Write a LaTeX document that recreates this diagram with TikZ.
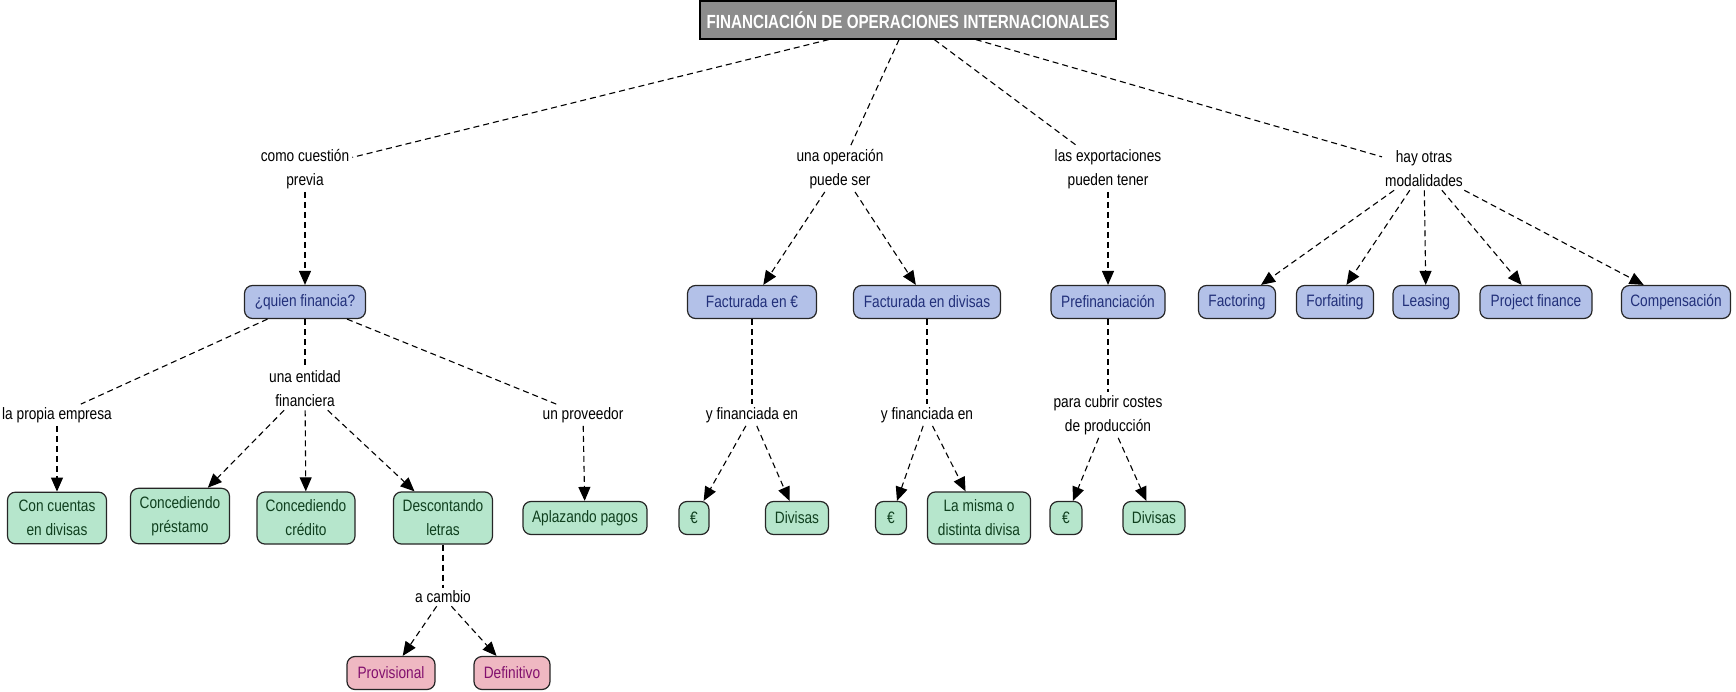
\documentclass[tikz,border=0pt]{standalone}
\usepackage{fontspec}
\setmainfont{Liberation Sans}[FakeStretch=0.83]
\newfontfamily\titlefont{Liberation Sans}[FakeStretch=0.8]
\usetikzlibrary{arrows.meta}
\definecolor{cmblue}{HTML}{B3C1E8}
\definecolor{cmbluet}{HTML}{22307A}
\definecolor{cmgreen}{HTML}{B6E6CC}
\definecolor{cmgreent}{HTML}{0F3F1E}
\definecolor{cmpink}{HTML}{EFB8C2}
\definecolor{cmpinkt}{HTML}{82106E}
\definecolor{cmgray}{HTML}{8C8C8C}
\tikzset{
 cbase/.style={rounded corners=8pt, draw=black!85, line width=1.2pt, align=center,
   font=\fontsize{16.5}{24}\selectfont, minimum height=33pt, inner xsep=3pt, inner ysep=8pt},
 bnode/.style={cbase, fill=cmblue, text=cmbluet},
 gnode/.style={cbase, fill=cmgreen, text=cmgreent},
 pnode/.style={cbase, fill=cmpink, text=cmpinkt},
 phrase/.style={align=center, font=\fontsize{16.5}{24}\selectfont, inner sep=3pt},
 w/.style={minimum width=#1pt},
 con/.style={dash pattern=on 6pt off 4pt, line width=1.1pt},
 arr/.style={con, -{Triangle[length=14pt,width=12pt]}},
}
\begin{document}
\begin{tikzpicture}[x=1pt,y=-1pt]
\useasboundingbox (0,0) rectangle (1736,692);
% title
\node[draw=black, line width=1.2pt, fill=cmgray, text=white, minimum width=416pt, minimum height=38pt,
  font=\titlefont\fontsize{19}{21}\selectfont\bfseries] (title) at (908,20) {FINANCIACIÓN DE OPERACIONES INTERNACIONALES};
% level 1 phrases
\node[phrase] (p1) at (305,169) {como cuestión\\previa};
\node[phrase] (p2) at (840,169) {una operación\\puede ser};
\node[phrase] (p3) at (1108,169) {las exportaciones\\pueden tener};
\node[phrase] (p4) at (1424,169) {hay otras\\modalidades};
% level 2 concepts
\node[bnode,w=121] (quien) at (305,302) {¿quien financia?};
\node[bnode,w=129] (feur) at (752,302) {Facturada en €};
\node[bnode,w=147] (fdiv) at (927,302) {Facturada en divisas};
\node[bnode,w=114] (pref) at (1108,302) {Prefinanciación};
\node[bnode,w=77] (fact) at (1237,302) {Factoring};
\node[bnode,w=77] (forf) at (1335,302) {Forfaiting};
\node[bnode,w=66] (leas) at (1426,302) {Leasing};
\node[bnode,w=112] (proj) at (1536,302) {Project finance};
\node[bnode,w=109] (comp) at (1676,302) {Compensación};
% level 3 phrases
\node[phrase] (q1) at (57,415) {la propia empresa};
\node[phrase] (q2) at (305,389) {una entidad\\financiera};
\node[phrase] (q3) at (583,415) {un proveedor};
\node[phrase] (q4) at (752,415) {y financiada en};
\node[phrase] (q5) at (927,415) {y financiada en};
\node[phrase] (q6) at (1108,415) {para cubrir costes\\de producción};
% level 4 concepts
\node[gnode,w=99] (cuen) at (57,518) {Con cuentas\\en divisas};
\node[gnode,w=99] (pres) at (180,516) {Concediendo\\préstamo};
\node[gnode,w=98] (cred) at (306,518) {Concediendo\\crédito};
\node[gnode,w=99] (desc) at (443,518) {Descontando\\letras};
\node[gnode,w=124] (apla) at (585,518) {Aplazando pagos};
\node[gnode,w=30] (e1) at (694,518) {€};
\node[gnode,w=63] (d1) at (797,518) {Divisas};
\node[gnode,w=31] (e2) at (891,518) {€};
\node[gnode,w=103] (misma) at (979,518) {La misma o\\distinta divisa};
\node[gnode,w=32] (e3) at (1066,518) {€};
\node[gnode,w=62] (d3) at (1154,518) {Divisas};
% level 5
\node[phrase] (r1) at (443,597) {a cambio};
\node[pnode,w=88] (prov) at (391,673) {Provisional};
\node[pnode,w=76] (defi) at (512,673) {Definitivo};
% connectors
\draw[con] (title) -- (p1);
\draw[con] (title) -- (p2);
\draw[con] (title) -- (p3);
\draw[con] (title) -- (p4);
\draw[arr] (p1) -- (quien);
\draw[arr] (p2) -- (feur);
\draw[arr] (p2) -- (fdiv);
\draw[arr] (p3) -- (pref);
\draw[arr] (p4) -- (fact);
\draw[arr] (p4) -- (forf);
\draw[arr] (p4) -- (leas);
\draw[arr] (p4) -- (proj);
\draw[arr] (p4) -- (comp);
\draw[con] (quien) -- (q1);
\draw[con] (quien) -- (q2);
\draw[con] (quien) -- (q3);
\draw[arr] (q1) -- (cuen);
\draw[arr] (q2) -- (pres);
\draw[arr] (q2) -- (cred);
\draw[arr] (q2) -- (desc);
\draw[arr] (q3) -- (apla);
\draw[con] (feur) -- (q4);
\draw[arr] (q4) -- (e1);
\draw[arr] (q4) -- (d1);
\draw[con] (fdiv) -- (q5);
\draw[arr] (q5) -- (e2);
\draw[arr] (q5) -- (misma);
\draw[con] (pref) -- (q6);
\draw[arr] (q6) -- (e3);
\draw[arr] (q6) -- (d3);
\draw[con] (desc) -- (r1);
\draw[arr] (r1) -- (prov);
\draw[arr] (r1) -- (defi);
\end{tikzpicture}
\end{document}
